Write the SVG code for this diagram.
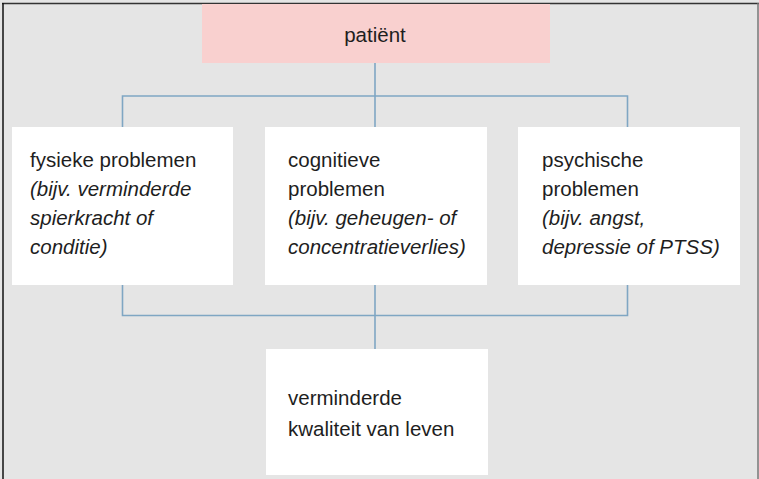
<svg xmlns="http://www.w3.org/2000/svg" width="759" height="479" viewBox="0 0 759 479">
<defs>
<style>
.bg{fill:#e5e5e5}
.box{fill:#ffffff}
.top{fill:#f9d0cf}
.t{font-family:"Liberation Sans",Arial,sans-serif;font-size:20.5px;fill:#1e1e1e}
.i{font-style:italic}
.c{fill:none;stroke:#7fa6c3;stroke-width:1.6}
</style>
</defs>
<rect class="bg" x="0" y="0" width="759" height="479"/>
<line x1="2" y1="3.5" x2="759" y2="3.5" stroke="#333" stroke-width="1.5"/>
<line x1="3" y1="3" x2="3" y2="479" stroke="#111" stroke-width="1.5"/>
<line x1="758" y1="3" x2="758" y2="479" stroke="#777" stroke-width="1.5"/>
<g id="connectors">
<path class="c" d="M375 63 V127"/>
<path class="c" d="M122.5 127 V96 H627.5 V127"/>
<path class="c" d="M122.5 285 V315.5 H627.5 V285"/>
<path class="c" d="M375 285 V349"/>
</g>
<g id="patient">
<rect class="top" x="202" y="4" width="348" height="59"/>
<text class="t" x="375" y="42" text-anchor="middle">patiënt</text>
</g>
<g id="fysiek">
<rect class="box" x="12" y="127" width="221" height="158"/>
<text class="t" x="30" y="167">fysieke problemen</text>
<text class="t i" x="30" y="196">(bijv. verminderde</text>
<text class="t i" x="30" y="225">spierkracht of</text>
<text class="t i" x="30" y="254">conditie)</text>
</g>
<g id="cognitief">
<rect class="box" x="265" y="127" width="222" height="158"/>
<text class="t" x="288" y="167">cognitieve</text>
<text class="t" x="288" y="196">problemen</text>
<text class="t i" x="288" y="225">(bijv. geheugen- of</text>
<text class="t i" x="288" y="254">concentratieverlies)</text>
</g>
<g id="psychisch">
<rect class="box" x="518" y="127" width="222" height="158"/>
<text class="t" x="542" y="167">psychische</text>
<text class="t" x="542" y="196">problemen</text>
<text class="t i" x="542" y="225">(bijv. angst,</text>
<text class="t i" x="542" y="254">depressie of PTSS)</text>
</g>
<g id="kwaliteit">
<rect class="box" x="266" y="349" width="222" height="126"/>
<text class="t" x="288" y="405">verminderde</text>
<text class="t" x="288" y="436">kwaliteit van leven</text>
</g>
</svg>
